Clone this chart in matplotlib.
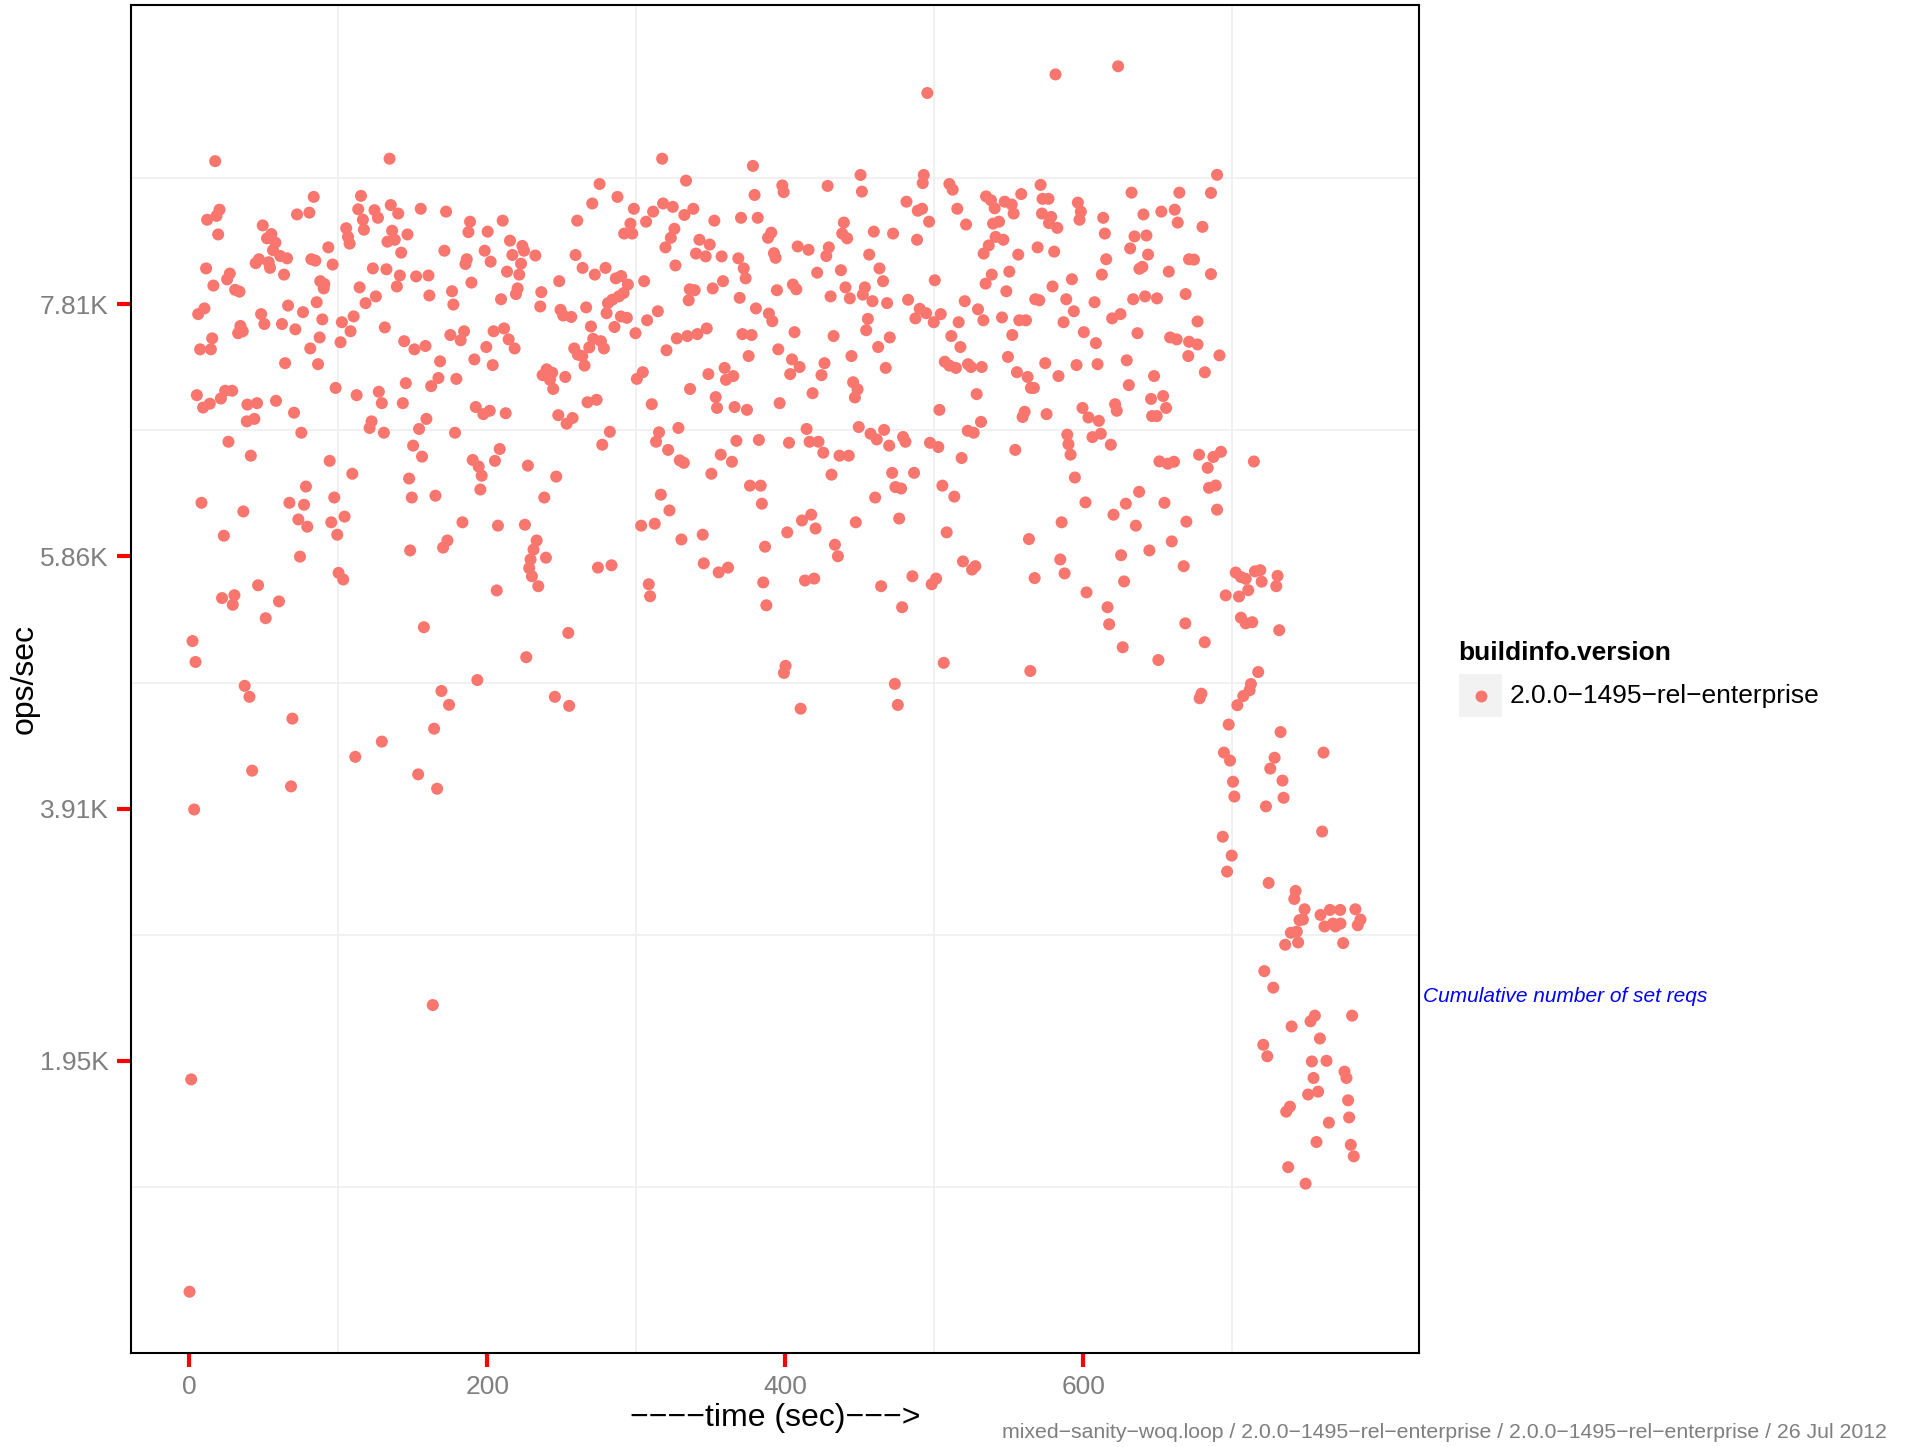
import numpy as np
import matplotlib
matplotlib.use("Agg")
import matplotlib.pyplot as plt
from matplotlib.patches import Rectangle
from matplotlib.lines import Line2D

plt.rcParams['font.family'] = ['Liberation Sans', 'DejaVu Sans']

MINUS = '\u2212'

# (time in sec, ops/sec in thousands) in time bands
pts_0_128 = [
    (0.3, 0.163), (1.4, 1.808), (3.4, 3.899),
    (17.5, 8.922), (83.6, 8.645), (115.3, 8.653), (20.4, 8.546), (12.1, 8.468), (18.4, 8.498), (19.5, 8.354),
    (72.4, 8.509), (80.7, 8.523), (113.5, 8.549), (124.4, 8.542), (126.7, 8.483), (116.6, 8.468), (117.3, 8.391),
    (49.4, 8.424), (105.4, 8.402), (106.6, 8.335), (107.7, 8.283), (55.2, 8.357), (52.3, 8.324), (57.9, 8.291),
    (56.3, 8.232), (61.2, 8.187), (65.7, 8.169), (46.9, 8.162), (44.7, 8.132), (53.4, 8.139), (54.3, 8.095),
    (63.7, 8.043), (93.4, 8.254), (82.0, 8.162), (84.7, 8.151), (96.3, 8.121), (11.4, 8.091), (27.3, 8.051),
    (25.5, 8.006), (16.3, 7.958), (30.9, 7.925), (33.8, 7.911), (88.0, 7.992), (90.7, 7.970), (90.3, 7.936),
    (123.3, 8.091), (114.4, 7.944), (125.3, 7.874), (118.4, 7.822), (85.6, 7.829), (66.4, 7.803), (76.4, 7.752),
    (10.3, 7.781), (6.1, 7.737), (48.3, 7.737), (50.5, 7.660), (62.3, 7.660), (71.3, 7.619), (89.4, 7.696),
    (102.5, 7.674), (110.4, 7.719), (108.3, 7.604), (34.4, 7.645), (32.9, 7.589), (36.0, 7.604), (15.5, 7.549),
    (7.4, 7.464), (14.6, 7.464), (81.3, 7.471), (87.6, 7.556), (101.6, 7.519), (64.4, 7.357), (86.5, 7.349),
    (98.3, 7.165), (5.2, 7.109), (9.4, 7.013), (13.9, 7.043), (21.3, 7.083), (24.2, 7.143), (28.9, 7.143),
    (39.1, 7.036), (45.6, 7.047), (58.3, 7.065), (38.7, 6.906), (43.8, 6.925), (70.4, 6.973), (75.3, 6.818),
    (112.4, 7.109), (127.3, 7.135), (122.4, 6.906), (121.1, 6.855), (26.4, 6.748), (41.4, 6.640), (94.3, 6.600),
    (109.5, 6.500), (8.3, 6.275), (36.4, 6.208), (23.3, 6.020), (78.4, 6.401), (67.3, 6.275), (77.1, 6.260),
    (73.3, 6.146), (79.3, 6.090), (97.4, 6.316), (95.4, 6.124), (99.4, 6.028), (104.3, 6.168), (74.4, 5.858),
    (100.3, 5.732), (103.4, 5.681), (46.3, 5.636), (22.1, 5.537), (30.4, 5.559), (29.3, 5.485), (60.3, 5.511),
    (51.4, 5.381), (2.3, 5.204), (4.3, 5.042), (37.3, 4.857), (40.5, 4.772), (69.3, 4.603), (111.5, 4.307),
    (42.3, 4.200), (68.4, 4.078),
]

pts_128_262 = [
    (163.5, 2.384),
    (134.5, 8.941), (135.3, 8.582), (140.3, 8.516), (155.4, 8.553), (172.4, 8.531), (136.2, 8.383), (133.1, 8.298),
    (138.0, 8.313), (146.5, 8.354), (142.3, 8.213), (132.4, 8.084), (141.4, 8.036), (139.4, 7.951), (152.3, 8.029),
    (160.6, 8.036), (161.2, 7.881), (171.3, 8.228), (176.4, 7.914), (177.3, 7.811), (188.5, 8.453), (187.4, 8.372),
    (200.3, 8.376), (198.3, 8.228), (202.3, 8.143), (186.3, 8.162), (185.4, 8.125), (189.4, 7.981), (210.4, 8.461),
    (215.3, 8.306), (216.9, 8.195), (223.6, 8.265), (224.7, 8.228), (222.7, 8.128), (232.3, 8.191), (213.3, 8.066),
    (221.5, 8.043), (209.3, 7.852), (220.4, 7.936), (219.3, 7.892), (260.4, 8.461), (259.3, 8.195), (236.3, 7.907),
    (235.6, 7.796), (248.3, 7.992), (249.2, 7.770), (251.0, 7.726), (256.4, 7.715), (131.3, 7.634), (144.3, 7.527),
    (151.2, 7.464), (158.6, 7.490), (168.4, 7.371), (175.3, 7.575), (184.5, 7.604), (182.2, 7.534), (204.3, 7.604),
    (211.3, 7.626), (214.4, 7.541), (218.4, 7.471), (199.4, 7.482), (191.4, 7.386), (203.7, 7.342), (145.4, 7.202),
    (167.3, 7.242), (162.4, 7.179), (179.3, 7.235), (143.4, 7.047), (129.3, 7.047), (130.7, 6.818), (154.3, 6.847),
    (159.2, 6.925), (150.3, 6.718), (156.3, 6.633), (178.4, 6.818), (192.3, 7.017), (197.4, 6.962), (201.7, 6.988),
    (212.4, 6.969), (190.3, 6.607), (194.3, 6.556), (196.3, 6.485), (195.4, 6.378), (208.4, 6.692), (205.2, 6.600),
    (227.3, 6.563), (246.3, 6.478), (238.3, 6.316), (147.6, 6.463), (149.4, 6.316), (165.3, 6.330), (183.4, 6.124),
    (207.2, 6.098), (225.3, 6.105), (173.3, 5.983), (170.4, 5.928), (148.3, 5.906), (233.2, 5.983), (231.1, 5.913),
    (229.1, 5.836), (228.2, 5.769), (230.0, 5.706), (239.4, 5.850), (234.3, 5.629), (206.4, 5.596), (157.5, 5.311),
    (254.4, 5.267), (226.2, 5.079), (193.4, 4.902), (169.3, 4.817), (174.4, 4.710), (245.4, 4.772), (255.0, 4.702),
    (164.4, 4.525), (129.3, 4.425), (153.7, 4.171), (166.4, 4.060), (239.9, 7.309), (243.6, 7.283), (237.2, 7.264),
    (242.1, 7.228), (244.3, 7.157), (252.4, 7.250), (247.7, 6.954), (257.3, 6.932), (253.3, 6.888), (258.4, 7.471),
    (260.8, 7.423),
]

pts_262_396 = [
    (317.4, 8.941), (378.3, 8.885), (275.4, 8.745), (333.4, 8.771), (379.4, 8.660), (270.5, 8.594), (287.4, 8.645),
    (298.4, 8.553), (311.3, 8.531), (318.0, 8.594), (324.5, 8.568), (332.3, 8.505), (338.3, 8.553), (296.1, 8.438),
    (291.9, 8.361), (297.3, 8.361), (306.6, 8.453), (325.6, 8.398), (323.2, 8.328), (319.6, 8.254), (342.4, 8.313),
    (349.3, 8.276), (340.1, 8.206), (346.6, 8.184), (352.4, 8.461), (370.3, 8.483), (381.5, 8.483), (390.6, 8.368),
    (388.4, 8.328), (392.4, 8.209), (393.5, 8.173), (357.3, 8.184), (368.5, 8.169), (372.1, 8.091), (373.4, 8.014),
    (326.3, 8.114), (264.0, 8.095), (272.2, 8.043), (279.4, 8.095), (286.3, 8.014), (289.9, 8.032), (294.4, 7.966),
    (305.3, 7.992), (291.5, 7.900), (288.3, 7.874), (283.9, 7.848), (281.0, 7.822), (280.1, 7.744), (266.4, 7.789),
    (289.7, 7.719), (293.7, 7.708), (314.5, 7.759), (307.3, 7.689), (299.5, 7.589), (269.6, 7.641), (285.4, 7.637),
    (271.1, 7.545), (276.3, 7.527), (268.5, 7.479), (278.3, 7.471), (263.8, 7.412), (265.3, 7.338), (335.9, 7.929),
    (339.2, 7.922), (335.2, 7.844), (351.3, 7.936), (358.2, 7.992), (369.4, 7.863), (380.3, 7.781), (389.0, 7.741),
    (391.3, 7.682), (394.4, 7.922), (327.2, 7.549), (334.3, 7.567), (341.0, 7.582), (347.3, 7.626), (371.2, 7.582),
    (377.4, 7.575), (320.3, 7.457), (375.4, 7.412), (395.3, 7.464), (304.4, 7.287), (300.4, 7.235), (348.4, 7.272),
    (359.3, 7.320), (360.2, 7.228), (365.1, 7.257), (336.1, 7.157), (353.3, 7.094), (354.2, 7.010), (366.0, 7.017),
    (374.3, 6.995), (396.2, 7.047), (267.3, 7.054), (273.4, 7.073), (310.4, 7.039), (282.3, 6.825), (277.2, 6.725),
    (315.3, 6.821), (313.3, 6.748), (328.3, 6.855), (321.4, 6.685), (329.2, 6.604), (331.9, 6.585), (356.7, 6.648),
    (364.2, 6.593), (367.2, 6.755), (382.3, 6.762), (350.4, 6.500), (376.3, 6.408), (383.5, 6.408), (384.3, 6.268),
    (316.5, 6.338), (322.3, 6.216), (303.3, 6.098), (312.4, 6.113), (330.3, 5.991), (344.6, 6.028), (386.4, 5.935),
    (274.3, 5.773), (283.4, 5.791), (345.3, 5.806), (355.3, 5.736), (361.6, 5.773), (308.4, 5.644), (309.3, 5.551),
    (385.2, 5.658), (387.3, 5.481),
]

pts_396_530 = [
    (495.3, 9.450), (398.0, 8.734), (398.9, 8.682), (428.4, 8.730), (450.5, 8.815), (451.4, 8.686), (492.9, 8.815),
    (492.2, 8.752), (510.1, 8.745), (512.3, 8.701), (481.3, 8.608), (488.9, 8.538), (491.8, 8.553), (496.5, 8.453),
    (515.4, 8.553), (521.3, 8.431), (439.3, 8.446), (438.2, 8.361), (441.5, 8.324), (459.4, 8.376), (472.3, 8.361),
    (488.4, 8.313), (408.3, 8.261), (415.6, 8.235), (429.2, 8.254), (427.5, 8.187), (456.3, 8.198), (421.4, 8.058),
    (437.3, 8.077), (463.2, 8.091), (465.6, 7.992), (405.1, 7.966), (407.4, 7.929), (430.4, 7.874), (440.4, 7.944),
    (443.3, 7.859), (453.4, 7.944), (452.0, 7.888), (458.5, 7.837), (468.3, 7.822), (500.3, 7.999), (482.4, 7.848),
    (490.2, 7.778), (487.3, 7.704), (494.5, 7.744), (499.6, 7.674), (504.3, 7.737), (516.3, 7.674), (520.4, 7.837),
    (529.3, 7.774), (455.4, 7.700), (454.3, 7.612), (406.2, 7.597), (432.4, 7.567), (462.3, 7.482), (470.1, 7.556),
    (511.4, 7.567), (517.5, 7.482), (404.5, 7.386), (403.3, 7.272), (409.6, 7.327), (426.3, 7.357), (424.3, 7.264),
    (444.4, 7.412), (467.4, 7.320), (507.0, 7.368), (510.1, 7.338), (514.5, 7.320), (522.6, 7.349), (524.6, 7.327),
    (445.5, 7.209), (448.5, 7.154), (446.7, 7.091), (418.3, 7.124), (503.4, 6.995), (528.4, 7.117), (414.3, 6.847),
    (402.5, 6.740), (416.3, 6.748), (422.3, 6.748), (425.5, 6.663), (436.4, 6.640), (442.6, 6.640), (449.3, 6.862),
    (457.2, 6.810), (461.4, 6.766), (466.3, 6.840), (469.7, 6.718), (479.0, 6.785), (480.6, 6.748), (497.1, 6.740),
    (502.7, 6.707), (522.4, 6.833), (526.4, 6.818), (518.3, 6.622), (431.0, 6.493), (471.7, 6.507), (486.4, 6.507),
    (473.9, 6.397), (477.7, 6.386), (460.3, 6.316), (505.4, 6.408), (513.4, 6.323), (401.3, 6.046), (411.2, 6.138),
    (417.4, 6.183), (420.3, 6.076), (447.3, 6.124), (476.4, 6.153), (508.3, 6.046), (433.3, 5.950), (435.3, 5.861),
    (413.2, 5.673), (419.4, 5.688), (464.3, 5.629), (485.3, 5.706), (501.2, 5.688), (498.2, 5.644), (519.2, 5.821),
    (525.3, 5.758), (527.5, 5.784), (478.4, 5.466), (399.1, 4.957), (400.2, 5.012), (506.3, 5.035), (410.3, 4.680),
    (473.5, 4.872), (475.5, 4.709),
]

pts_530_672 = [
    (581.3, 9.594), (623.3, 9.657), (571.3, 8.738), (632.3, 8.678), (664.4, 8.678), (534.7, 8.649), (538.0, 8.619),
    (547.2, 8.608), (551.9, 8.586), (558.3, 8.667), (540.5, 8.557), (553.2, 8.516), (572.6, 8.630), (576.6, 8.630),
    (572.2, 8.516), (578.4, 8.490), (576.9, 8.442), (582.5, 8.405), (596.3, 8.601), (598.3, 8.531), (597.4, 8.468),
    (539.4, 8.438), (543.4, 8.453), (541.1, 8.335), (546.3, 8.313), (536.5, 8.269), (533.1, 8.206), (556.3, 8.198),
    (569.3, 8.254), (580.4, 8.221), (613.3, 8.483), (614.4, 8.361), (615.3, 8.162), (612.4, 8.043), (640.3, 8.509),
    (652.3, 8.531), (661.3, 8.546), (663.3, 8.446), (634.3, 8.339), (642.3, 8.346), (631.4, 8.246), (643.4, 8.198),
    (637.6, 8.088), (639.6, 8.103), (657.3, 8.066), (670.9, 8.162), (538.5, 8.043), (550.3, 8.066), (534.4, 7.973),
    (548.3, 7.914), (579.3, 7.951), (592.3, 8.007), (567.7, 7.852), (570.4, 7.844), (588.5, 7.852), (593.6, 7.759),
    (586.7, 7.674), (532.9, 7.689), (545.4, 7.711), (557.0, 7.689), (561.5, 7.689), (552.3, 7.575), (600.3, 7.597),
    (607.5, 7.829), (608.4, 7.512), (619.3, 7.704), (624.9, 7.737), (633.4, 7.852), (641.4, 7.874), (649.4, 7.859),
    (636.3, 7.589), (658.2, 7.556), (662.6, 7.541), (668.6, 7.892), (670.9, 7.523), (670.4, 7.412), (531.8, 7.327),
    (549.4, 7.405), (555.4, 7.287), (562.6, 7.250), (564.8, 7.165), (566.8, 7.165), (574.4, 7.357), (583.3, 7.257),
    (595.4, 7.342), (609.5, 7.349), (629.1, 7.379), (630.5, 7.187), (647.4, 7.257), (645.4, 7.080), (653.5, 7.102),
    (655.5, 7.010), (646.1, 6.947), (649.2, 6.947), (531.3, 6.902), (559.2, 6.940), (560.6, 6.980), (575.3, 6.962),
    (599.4, 7.010), (603.4, 6.936), (610.4, 6.910), (621.3, 7.039), (622.4, 6.988), (606.1, 6.784), (611.7, 6.810),
    (618.4, 6.725), (589.2, 6.803), (590.0, 6.729), (591.4, 6.648), (594.3, 6.471), (554.3, 6.685), (601.4, 6.278),
    (620.2, 6.183), (628.5, 6.268), (637.4, 6.360), (635.2, 6.098), (651.0, 6.596), (656.6, 6.578), (660.8, 6.593),
    (654.4, 6.275), (585.4, 6.124), (563.5, 5.994), (584.5, 5.836), (587.4, 5.728), (567.3, 5.692), (602.1, 5.581),
    (625.3, 5.869), (627.3, 5.666), (644.3, 5.906), (659.3, 5.976), (616.2, 5.466), (617.3, 5.334), (626.4, 5.156),
    (650.3, 5.057), (564.4, 4.972),
]

pts_672_700_high = [
    (689.7, 8.816), (685.6, 8.676), (679.9, 8.413), (674.2, 8.159), (685.6, 8.047), (676.6, 7.680), (676.6, 7.502),
    (691.3, 7.417), (681.5, 7.286),
]

pts_664_786 = [
    (677.6, 6.648), (687.2, 6.630), (692.3, 6.670), (683.4, 6.546), (714.4, 6.595), (684.3, 6.391), (688.8, 6.409),
    (689.7, 6.222), (669.1, 6.129), (667.3, 5.784), (668.4, 5.341), (681.4, 5.195), (695.5, 5.558), (702.2, 5.735),
    (704.4, 5.549), (705.7, 5.700), (708.9, 5.686), (710.6, 5.598), (715.1, 5.744), (718.7, 5.753), (719.6, 5.664),
    (730.3, 5.709), (729.4, 5.629), (705.7, 5.385), (708.9, 5.341), (713.3, 5.350), (731.4, 5.288), (717.3, 4.964),
    (712.4, 4.871), (711.5, 4.823), (707.3, 4.778), (703.3, 4.707), (679.2, 4.796), (678.0, 4.761), (697.5, 4.557),
    (732.3, 4.499), (694.3, 4.340), (698.4, 4.278), (728.3, 4.300), (725.4, 4.216), (761.1, 4.340), (700.4, 4.114),
    (701.3, 3.999), (733.6, 4.123), (734.3, 3.990), (722.5, 3.923), (693.5, 3.688), (699.5, 3.542), (696.4, 3.418),
    (760.2, 3.728), (724.3, 3.330), (742.4, 3.268), (741.5, 3.206), (748.4, 3.126), (745.0, 3.042), (747.3, 3.046),
    (743.2, 2.953), (739.2, 2.944), (735.4, 2.851), (744.1, 2.869), (759.1, 3.082), (765.4, 3.121), (772.3, 3.121),
    (761.8, 2.993), (767.4, 3.015), (772.5, 3.015), (769.1, 2.993), (774.3, 2.864), (782.5, 3.126), (785.9, 3.046),
    (784.1, 3.002), (721.4, 2.647), (727.4, 2.519), (739.7, 2.218), (752.4, 2.258), (755.3, 2.302), (758.7, 2.125),
    (780.3, 2.302), (720.7, 2.076), (723.4, 1.987), (753.3, 1.947), (763.1, 1.952), (754.4, 1.819), (775.2, 1.868),
    (776.5, 1.819), (750.8, 1.691), (757.5, 1.713), (736.1, 1.558), (738.6, 1.597), (777.6, 1.646), (764.7, 1.473),
    (778.3, 1.513), (756.4, 1.323), (779.4, 1.301), (781.4, 1.212), (737.4, 1.128), (749.1, 1.000),
]

y_breaks = [1953.125, 3906.25, 5859.375, 7812.5]
y_labels = ['1.95K', '3.91K', '5.86K', '7.81K']
x_breaks = [0, 200, 400, 600]
version = f'2.0.0{MINUS}1495{MINUS}rel{MINUS}enterprise'
caption = (f'mixed{MINUS}sanity{MINUS}woq.loop / {version} / {version} / 26 Jul 2012')

all_pts = np.array(pts_0_128 + pts_128_262 + pts_262_396 + pts_396_530
                   + pts_530_672 + pts_672_700_high + pts_664_786)
t = all_pts[:, 0]
ops = all_pts[:, 1] * 1000

W, H = 1908, 1447
fig = plt.figure(figsize=(W / 100, H / 100), dpi=100)
fig.patch.set_facecolor('white')

# panel box in pixels: left 131, right 1419, top 5, bottom 1353
ax = fig.add_axes([131 / W, 1 - 1353 / H, (1419 - 131) / W, (1353 - 5) / H])

point_col = '#F8766D'
ax.scatter(t, ops, s=75, c=point_col, edgecolors='none', zorder=3)

xr = t.max() - t.min()
yr = ops.max() - ops.min()
ax.set_xlim(t.min() - 0.05 * xr, t.max() + 0.05 * xr)
ax.set_ylim(ops.min() - 0.05 * yr, ops.max() + 0.05 * yr)

ax.set_xticks(x_breaks)
ax.set_xticklabels([str(v) for v in x_breaks])
ax.set_yticks(y_breaks)
ax.set_yticklabels(y_labels)
ax.set_xticks([100, 300, 500, 700], minor=True)
ax.set_yticks([b - 976.5625 for b in y_breaks] + [y_breaks[-1] + 976.5625], minor=True)
ax.grid(which='minor', color='#efefef', linewidth=1.2)
ax.grid(which='major', visible=False)
ax.set_axisbelow(True)

ax.tick_params(which='major', color='red', width=3, length=10, labelsize=19,
               labelcolor='#7f7f7f', pad=6)
ax.tick_params(which='minor', length=0)
for sp in ax.spines.values():
    sp.set_color('black')
    sp.set_linewidth(1.5)

def fx(px):
    return px / W

def fy(py):
    return 1 - py / H

fig.text(fx(775), fy(1418), f'{MINUS*4}time (sec){MINUS*3}>', fontsize=23, ha='center', va='center')
fig.text(fx(25), fy(679), 'ops/sec', fontsize=23, rotation=90, ha='center', va='center')

# legend
fig.text(fx(1458), fy(653), 'buildinfo.version', fontsize=19, fontweight='bold', ha='left', va='center')
fig.patches.append(Rectangle((fx(1459), fy(717)), 43 / W, 43 / H, transform=fig.transFigure,
                             facecolor='#f2f2f2', edgecolor='none'))
fig.lines.append(Line2D([fx(1481)], [fy(696)], transform=fig.transFigure, marker='o',
                        markersize=8.6, color=point_col, markeredgewidth=0, linestyle='none'))
fig.text(fx(1510), fy(696), version, fontsize=19, ha='left', va='center')

fig.text(fx(1423), fy(996), 'Cumulative number of set reqs', fontsize=15, style='italic',
         color='blue', ha='left', va='center')
fig.text(fx(1887), fy(1433), caption, fontsize=15.3, color='#7f7f7f', ha='right', va='center')

fig.savefig('out.png', dpi=100)
